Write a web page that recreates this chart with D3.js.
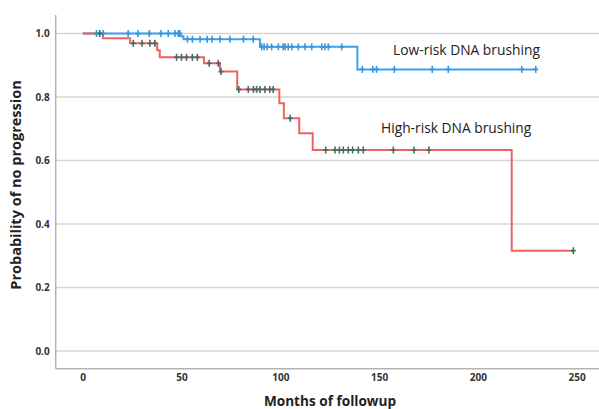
<!DOCTYPE html>
<html>
<head>
<meta charset="utf-8">
<script src="https://cdn.jsdelivr.net/npm/d3@7"></script>
<style>
  html, body { margin: 0; padding: 0; background: #ffffff; }
  svg { display: block; }
</style>
</head>
<body>
<svg id="chart" width="599" height="409"></svg>
<script>
// ---- data ----
const xTicks = [0, 50, 100, 150, 200, 250];
const yTicks = [0.0, 0.2, 0.4, 0.6, 0.8, 1.0];

// High-risk DNA brushing: step times and survival after each step
const highStepTimes = [0, 10.2, 24, 37.7, 39, 61.4, 69.5, 78.2, 99.5, 101.8, 109.6, 116.4, 217.1];
const highStepSurv  = [1.0, 0.985, 0.969, 0.947, 0.925, 0.906, 0.880, 0.824, 0.780, 0.733, 0.686, 0.633, 0.316];
const highEnd = 248.3;
const highCensor = [8.6, 25.6, 30, 34, 36.5, 47.5, 50, 52.5, 55.5, 58, 64, 68.6, 70, 79,
  83.8, 86.4, 88, 89.7, 92.2, 94.7, 96.4, 105, 123, 127.7, 129.9, 131.9, 134.4, 136.6,
  139.5, 142, 157.2, 167.7, 175.2, 248.3];

// Low-risk DNA brushing
const lowStepTimes = [0, 49.5, 51, 89.7, 139];
const lowStepSurv  = [1.0, 0.991, 0.982, 0.958, 0.887];
const lowEnd = 229.4;
const lowCensor = [7, 10.4, 23, 28, 33.7, 39.6, 43.3, 46.7, 48.4, 49.2,
  53, 55.5, 59.4, 63, 65.5, 69.5, 74.5, 81.4, 86.3,
  90.6, 91.8, 93.4, 95.6, 99, 101.5, 102.4, 104, 105.8, 109.1, 112.5, 115.9, 121, 122.6, 124.3, 131.1,
  141.5, 146.8, 148.7, 157.7, 176.9, 185, 222.2, 229.3];

const labels = {
  low: "Low-risk DNA brushing",
  high: "High-risk DNA brushing",
  xTitle: "Months of followup",
  yTitle: "Probability of no progression"
};

// ---- drawing ----
const W = 599, H = 409;
const svg = d3.select("#chart");
const x = d3.scaleLinear().domain([0, 250]).range([82.7, 576.7]);
const y = d3.scaleLinear().domain([0, 1]).range([351, 33.5]);

const plotLeft = 55.7, plotBottom = 368.7, plotTop = 15, plotRight = W;

// gridlines
svg.append("g").selectAll("line").data(yTicks).join("line")
  .attr("x1", plotLeft).attr("x2", plotRight)
  .attr("y1", d => y(d)).attr("y2", d => y(d))
  .attr("stroke", "#d6d6d6").attr("stroke-width", 1.5);

// axes lines
svg.append("line").attr("x1", plotLeft).attr("x2", plotLeft)
  .attr("y1", plotTop).attr("y2", plotBottom)
  .attr("stroke", "#b3b3b3").attr("stroke-width", 1.5);
svg.append("line").attr("x1", plotLeft).attr("x2", plotRight)
  .attr("y1", plotBottom).attr("y2", plotBottom)
  .attr("stroke", "#b3b3b3").attr("stroke-width", 1.5);

// tick labels
const yAxis = d3.axisLeft(y).tickValues(yTicks).tickFormat(d3.format(".1f")).tickSize(0).tickPadding(6);
const gy = svg.append("g").attr("transform", `translate(${plotLeft},0)`).call(yAxis);
gy.select(".domain").remove();
gy.selectAll("text").attr("font-family", "Open Sans, sans-serif").attr("font-weight", "bold")
  .attr("font-size", 10).attr("fill", "#333");

const xAxis = d3.axisBottom(x).tickValues(xTicks).tickFormat(d3.format("d")).tickSize(0).tickPadding(0);
const gx = svg.append("g").attr("transform", `translate(0,${plotBottom + 5})`).call(xAxis);
gx.select(".domain").remove();
gx.selectAll("text").attr("font-family", "Open Sans, sans-serif").attr("font-weight", "bold")
  .attr("font-size", 10).attr("fill", "#333");

// step path builder
function stepPoints(times, surv, end) {
  const pts = times.map((t, i) => [t, surv[i]]);
  pts.push([end, surv[surv.length - 1]]);
  return pts;
}
function survAt(times, surv, t) {
  let s = surv[0];
  for (let i = 0; i < times.length; i++) if (times[i] <= t) s = surv[i];
  return s;
}
const line = d3.line().x(d => x(d[0])).y(d => y(d[1])).curve(d3.curveStepAfter);

const blue = "#3fa0ea", red = "#f06262", redCens = "#3e6f66";

svg.append("path").datum(stepPoints(lowStepTimes, lowStepSurv, lowEnd))
  .attr("d", line).attr("fill", "none").attr("stroke", blue).attr("stroke-width", 2);
svg.append("path").datum(stepPoints(highStepTimes, highStepSurv, highEnd))
  .attr("d", line).attr("fill", "none").attr("stroke", red).attr("stroke-width", 2);

function censors(times, stepT, stepS, color) {
  const g = svg.append("g");
  g.selectAll("line.v").data(times).join("line").attr("class", "v")
    .attr("x1", d => x(d)).attr("x2", d => x(d))
    .attr("y1", d => y(survAt(stepT, stepS, d)) - 3.5)
    .attr("y2", d => y(survAt(stepT, stepS, d)) + 3.5)
    .attr("stroke", color).attr("stroke-width", 1.6);
  g.selectAll("line.h").data(times).join("line").attr("class", "h")
    .attr("x1", d => x(d) - 2.5).attr("x2", d => x(d) + 2.5)
    .attr("y1", d => y(survAt(stepT, stepS, d)))
    .attr("y2", d => y(survAt(stepT, stepS, d)))
    .attr("stroke", color).attr("stroke-width", 1.6);
}
censors(lowCensor, lowStepTimes, lowStepSurv, "#3a95dd");
censors(highCensor, highStepTimes, highStepSurv, redCens);

// annotations
svg.append("text").attr("x", 393).attr("y", 55).text(labels.low)
  .attr("font-family", "Open Sans, sans-serif").attr("font-size", 13.8).attr("fill", "#222");
svg.append("text").attr("x", 381).attr("y", 133).text(labels.high)
  .attr("font-family", "Open Sans, sans-serif").attr("font-size", 13.8).attr("fill", "#222");

// axis titles
svg.append("text").attr("x", 330).attr("y", 406).attr("text-anchor", "middle")
  .text(labels.xTitle).attr("font-family", "Open Sans, sans-serif").attr("font-weight", "bold")
  .attr("font-size", 13.6).attr("fill", "#222");
svg.append("text").attr("transform", "translate(21,185) rotate(-90)").attr("text-anchor", "middle")
  .text(labels.yTitle).attr("font-family", "Open Sans, sans-serif").attr("font-weight", "bold")
  .attr("font-size", 14.5).attr("fill", "#222");
</script>
</body>
</html>
